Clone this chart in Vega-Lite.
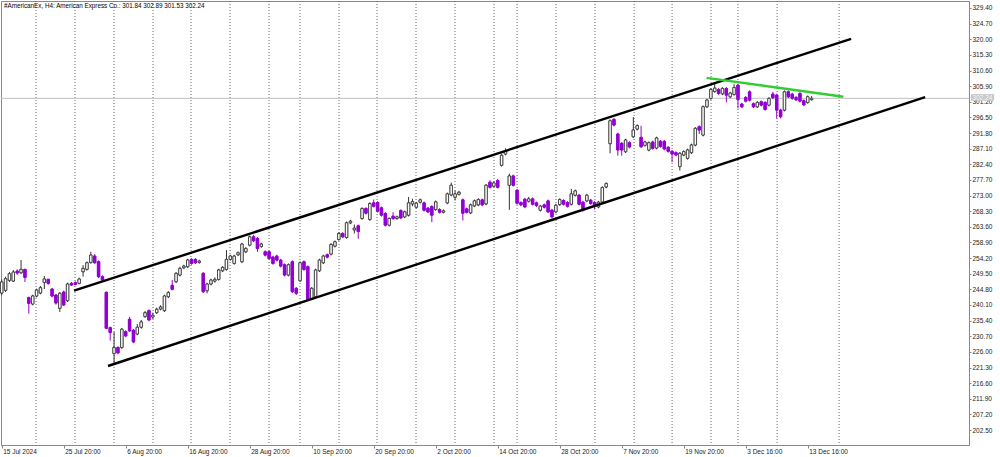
{
  "$schema": "https://vega.github.io/schema/vega-lite/v6.json",
  "width": 968,
  "height": 444,
  "autosize": "none",
  "padding": {"left": 1, "top": 1, "right": 31, "bottom": 12},
  "background": "white",
  "config": {
    "view": {"stroke": "#888888", "strokeWidth": 1},
    "scale": {"continuousPadding": 0},
    "axis": {"labelOverlap": false, "labelFlush": false, "labelBound": false, "grid": false, "domainColor": "#888888", "tickColor": "#888888", "labelFont": "Liberation Sans", "labelFontSize": 6.5, "labelColor": "#222222"},
    "axisX": {"tickSize": 3, "labelAlign": "left", "labelBaseline": "top", "labelPadding": 0, "labelOffset": 1},
    "axisY": {"tickSize": 2, "labelPadding": 1, "labelAlign": "left", "labelBaseline": "middle"}
  },
  "resolve": {"axis": {"x": "independent", "y": "independent"}},
  "datasets": {
    "candles": [
      {"i":0,"o":243.7,"c":247.0,"h":247.8,"l":243.0},
      {"i":1,"o":244.5,"c":248.0,"h":248.6,"l":244.0},
      {"i":2,"o":247.5,"c":249.5,"h":250.0,"l":247.0},
      {"i":3,"o":247.3,"c":250.0,"h":250.6,"l":247.0},
      {"i":4,"o":250.3,"c":249.7,"h":250.8,"l":249.2},
      {"i":5,"o":249.8,"c":250.8,"h":253.6,"l":249.4},
      {"i":6,"o":250.8,"c":248.4,"h":251.0,"l":247.0},
      {"i":7,"o":242.3,"c":240.6,"h":242.6,"l":237.5},
      {"i":8,"o":240.4,"c":242.8,"h":243.2,"l":240.0},
      {"i":9,"o":242.8,"c":244.6,"h":245.0,"l":242.4},
      {"i":10,"o":243.7,"c":245.3,"h":245.8,"l":243.3},
      {"i":11,"o":246.9,"c":247.9,"h":248.8,"l":244.9},
      {"i":12,"o":247.8,"c":246.6,"h":248.0,"l":246.2},
      {"i":13,"o":244.9,"c":242.8,"h":245.2,"l":242.4},
      {"i":14,"o":243.1,"c":240.7,"h":243.4,"l":240.2},
      {"i":15,"o":239.1,"c":243.6,"h":244.0,"l":238.0},
      {"i":16,"o":244.0,"c":240.1,"h":244.4,"l":239.8},
      {"i":17,"o":241.4,"c":246.4,"h":246.8,"l":241.0},
      {"i":18,"o":246.6,"c":246.1,"h":247.0,"l":245.8},
      {"i":19,"o":246.8,"c":246.3,"h":247.2,"l":246.0},
      {"i":20,"o":246.6,"c":247.9,"h":248.3,"l":246.3},
      {"i":21,"o":250.1,"c":251.1,"h":252.1,"l":248.6},
      {"i":22,"o":250.8,"c":252.8,"h":253.2,"l":250.4},
      {"i":23,"o":252.9,"c":255.1,"h":256.1,"l":252.5},
      {"i":24,"o":254.8,"c":252.8,"h":255.4,"l":252.5},
      {"i":25,"o":253.1,"c":248.6,"h":253.5,"l":248.2},
      {"i":26,"o":248.6,"c":247.6,"h":249.0,"l":247.2},
      {"i":27,"o":243.9,"c":233.1,"h":244.2,"l":232.8},
      {"i":28,"o":233.3,"c":231.8,"h":233.6,"l":229.4},
      {"i":29,"o":225.5,"c":227.3,"h":232.0,"l":222.6},
      {"i":30,"o":227.3,"c":225.7,"h":227.7,"l":225.3},
      {"i":31,"o":227.3,"c":232.8,"h":233.2,"l":226.9},
      {"i":32,"o":232.1,"c":230.8,"h":232.5,"l":230.4},
      {"i":33,"o":235.8,"c":232.3,"h":236.5,"l":232.0},
      {"i":34,"o":232.5,"c":229.0,"h":232.9,"l":228.6},
      {"i":35,"o":231.4,"c":233.4,"h":234.4,"l":231.0},
      {"i":36,"o":233.4,"c":235.0,"h":235.6,"l":233.0},
      {"i":37,"o":236.6,"c":237.8,"h":238.3,"l":236.2},
      {"i":38,"o":238.4,"c":235.6,"h":238.8,"l":235.2},
      {"i":39,"o":236.5,"c":237.0,"h":237.8,"l":235.9},
      {"i":40,"o":237.8,"c":238.8,"h":239.3,"l":237.4},
      {"i":41,"o":238.9,"c":239.5,"h":240.0,"l":238.5},
      {"i":42,"o":238.4,"c":242.8,"h":243.2,"l":238.0},
      {"i":43,"o":242.6,"c":243.8,"h":244.3,"l":242.2},
      {"i":44,"o":246.0,"c":244.8,"h":247.6,"l":244.5},
      {"i":45,"o":247.1,"c":249.6,"h":250.0,"l":246.7},
      {"i":46,"o":249.1,"c":251.1,"h":251.6,"l":248.7},
      {"i":47,"o":251.3,"c":251.8,"h":252.2,"l":250.9},
      {"i":48,"o":251.6,"c":253.6,"h":254.0,"l":251.2},
      {"i":49,"o":253.8,"c":252.6,"h":254.2,"l":252.2},
      {"i":50,"o":253.8,"c":252.8,"h":254.2,"l":252.4},
      {"i":51,"o":252.9,"c":253.3,"h":253.7,"l":252.5},
      {"i":52,"o":249.6,"c":244.1,"h":250.0,"l":243.7},
      {"i":53,"o":244.4,"c":246.4,"h":246.8,"l":243.6},
      {"i":54,"o":246.4,"c":247.6,"h":248.0,"l":246.0},
      {"i":55,"o":247.3,"c":247.8,"h":248.4,"l":246.8},
      {"i":56,"o":247.8,"c":250.6,"h":251.0,"l":247.4},
      {"i":57,"o":250.4,"c":251.4,"h":251.8,"l":250.0},
      {"i":58,"o":250.8,"c":253.8,"h":256.6,"l":250.4},
      {"i":59,"o":253.8,"c":254.8,"h":255.2,"l":253.4},
      {"i":60,"o":252.6,"c":254.8,"h":255.2,"l":252.2},
      {"i":61,"o":255.2,"c":255.8,"h":256.2,"l":254.8},
      {"i":62,"o":253.1,"c":258.4,"h":258.8,"l":252.7},
      {"i":63,"o":256.1,"c":257.1,"h":257.5,"l":255.7},
      {"i":64,"o":258.1,"c":260.6,"h":261.0,"l":257.7},
      {"i":65,"o":260.6,"c":259.4,"h":261.2,"l":259.0},
      {"i":66,"o":260.1,"c":257.1,"h":260.5,"l":256.1},
      {"i":67,"o":257.7,"c":258.4,"h":258.8,"l":257.3},
      {"i":68,"o":256.1,"c":255.1,"h":256.5,"l":254.7},
      {"i":69,"o":256.1,"c":254.1,"h":256.5,"l":253.7},
      {"i":70,"o":254.5,"c":252.6,"h":254.9,"l":252.2},
      {"i":71,"o":254.8,"c":253.6,"h":255.2,"l":253.2},
      {"i":72,"o":253.6,"c":251.8,"h":254.0,"l":251.4},
      {"i":73,"o":252.2,"c":249.1,"h":252.6,"l":248.7},
      {"i":74,"o":249.1,"c":252.2,"h":252.6,"l":248.7},
      {"i":75,"o":253.1,"c":244.1,"h":253.5,"l":243.7},
      {"i":76,"o":245.1,"c":243.6,"h":245.5,"l":243.1},
      {"i":77,"o":247.4,"c":252.8,"h":253.2,"l":247.0},
      {"i":78,"o":253.1,"c":250.8,"h":253.5,"l":250.4},
      {"i":79,"o":251.6,"c":241.8,"h":252.0,"l":241.4},
      {"i":80,"o":242.1,"c":245.1,"h":245.5,"l":241.7},
      {"i":81,"o":242.6,"c":250.6,"h":251.0,"l":242.2},
      {"i":82,"o":250.4,"c":253.6,"h":254.0,"l":250.0},
      {"i":83,"o":252.8,"c":254.8,"h":255.2,"l":252.4},
      {"i":84,"o":255.2,"c":254.5,"h":255.6,"l":254.1},
      {"i":85,"o":255.4,"c":258.3,"h":258.7,"l":255.0},
      {"i":86,"o":257.8,"c":259.1,"h":259.5,"l":257.4},
      {"i":87,"o":259.8,"c":261.6,"h":262.0,"l":259.4},
      {"i":88,"o":261.6,"c":260.6,"h":262.0,"l":260.2},
      {"i":89,"o":260.4,"c":264.8,"h":265.2,"l":260.0},
      {"i":90,"o":264.8,"c":265.3,"h":265.7,"l":264.4},
      {"i":91,"o":262.7,"c":263.2,"h":264.3,"l":261.6},
      {"i":92,"o":263.9,"c":262.2,"h":264.3,"l":260.0},
      {"i":93,"o":266.1,"c":269.1,"h":269.5,"l":265.7},
      {"i":94,"o":269.1,"c":267.7,"h":269.5,"l":267.3},
      {"i":95,"o":265.8,"c":270.6,"h":271.0,"l":265.4},
      {"i":96,"o":270.8,"c":269.8,"h":271.8,"l":269.4},
      {"i":97,"o":270.9,"c":268.3,"h":271.3,"l":267.9},
      {"i":98,"o":269.3,"c":267.1,"h":269.7,"l":266.7},
      {"i":99,"o":267.6,"c":264.1,"h":268.0,"l":263.7},
      {"i":100,"o":264.1,"c":266.1,"h":266.5,"l":263.7},
      {"i":101,"o":266.8,"c":266.1,"h":268.0,"l":265.7},
      {"i":102,"o":266.1,"c":266.6,"h":267.0,"l":265.7},
      {"i":103,"o":268.5,"c":266.3,"h":268.9,"l":265.9},
      {"i":104,"o":266.6,"c":268.1,"h":268.5,"l":266.2},
      {"i":105,"o":267.1,"c":270.8,"h":272.6,"l":266.7},
      {"i":106,"o":270.5,"c":271.2,"h":272.0,"l":269.8},
      {"i":107,"o":269.5,"c":270.7,"h":271.1,"l":269.1},
      {"i":108,"o":271.0,"c":271.7,"h":272.1,"l":270.6},
      {"i":109,"o":270.8,"c":268.6,"h":271.2,"l":268.2},
      {"i":110,"o":269.2,"c":268.1,"h":269.6,"l":267.7},
      {"i":111,"o":269.7,"c":267.1,"h":270.1,"l":265.0},
      {"i":112,"o":268.8,"c":271.1,"h":271.5,"l":268.4},
      {"i":113,"o":268.8,"c":268.0,"h":269.2,"l":267.6},
      {"i":114,"o":268.0,"c":268.4,"h":268.8,"l":267.6},
      {"i":115,"o":270.8,"c":273.5,"h":273.9,"l":270.4},
      {"i":116,"o":273.2,"c":276.1,"h":276.9,"l":272.8},
      {"i":117,"o":272.5,"c":273.5,"h":274.5,"l":271.5},
      {"i":118,"o":273.4,"c":274.0,"h":274.4,"l":273.0},
      {"i":119,"o":271.7,"c":267.7,"h":272.1,"l":265.5},
      {"i":120,"o":269.0,"c":268.0,"h":269.4,"l":267.6},
      {"i":121,"o":267.8,"c":270.2,"h":270.6,"l":267.4},
      {"i":122,"o":269.9,"c":271.4,"h":271.8,"l":269.5},
      {"i":123,"o":270.2,"c":271.8,"h":272.2,"l":269.8},
      {"i":124,"o":271.7,"c":270.2,"h":272.1,"l":269.8},
      {"i":125,"o":270.5,"c":276.1,"h":276.5,"l":270.1},
      {"i":126,"o":277.0,"c":275.5,"h":277.6,"l":275.1},
      {"i":127,"o":275.8,"c":276.8,"h":277.2,"l":275.4},
      {"i":128,"o":277.5,"c":275.5,"h":278.0,"l":275.1},
      {"i":129,"o":282.1,"c":285.1,"h":285.6,"l":281.7},
      {"i":130,"o":285.5,"c":286.3,"h":287.2,"l":285.1},
      {"i":131,"o":276.1,"c":278.9,"h":279.6,"l":268.7},
      {"i":132,"o":278.9,"c":276.1,"h":279.3,"l":275.7},
      {"i":133,"o":274.6,"c":270.7,"h":275.0,"l":270.3},
      {"i":134,"o":270.9,"c":270.2,"h":271.3,"l":269.8},
      {"i":135,"o":271.9,"c":269.6,"h":272.3,"l":269.2},
      {"i":136,"o":271.3,"c":272.0,"h":272.6,"l":270.9},
      {"i":137,"o":272.0,"c":270.4,"h":272.4,"l":270.0},
      {"i":138,"o":270.8,"c":270.0,"h":271.2,"l":269.6},
      {"i":139,"o":268.6,"c":269.8,"h":270.2,"l":268.2},
      {"i":140,"o":270.2,"c":269.5,"h":270.6,"l":269.1},
      {"i":141,"o":271.4,"c":268.1,"h":271.8,"l":267.7},
      {"i":142,"o":268.6,"c":266.6,"h":269.0,"l":266.2},
      {"i":143,"o":268.1,"c":270.1,"h":270.5,"l":267.7},
      {"i":144,"o":270.3,"c":271.8,"h":272.2,"l":269.9},
      {"i":145,"o":271.5,"c":270.4,"h":271.9,"l":270.0},
      {"i":146,"o":270.9,"c":269.8,"h":271.3,"l":269.4},
      {"i":147,"o":270.4,"c":273.5,"h":275.0,"l":270.0},
      {"i":148,"o":273.1,"c":274.4,"h":274.8,"l":272.7},
      {"i":149,"o":273.1,"c":270.4,"h":273.5,"l":270.0},
      {"i":150,"o":271.0,"c":268.6,"h":271.4,"l":268.2},
      {"i":151,"o":271.4,"c":273.1,"h":273.5,"l":271.0},
      {"i":152,"o":271.6,"c":270.6,"h":272.0,"l":270.2},
      {"i":153,"o":270.9,"c":269.9,"h":271.3,"l":268.8},
      {"i":154,"o":269.6,"c":271.0,"h":271.4,"l":269.2},
      {"i":155,"o":271.1,"c":275.4,"h":275.8,"l":270.7},
      {"i":156,"o":275.6,"c":276.6,"h":277.0,"l":275.2},
      {"i":157,"o":288.6,"c":295.5,"h":295.9,"l":285.7},
      {"i":158,"o":295.9,"c":294.2,"h":296.3,"l":293.8},
      {"i":159,"o":291.5,"c":286.7,"h":291.9,"l":285.0},
      {"i":160,"o":288.7,"c":286.7,"h":289.1,"l":285.0},
      {"i":161,"o":286.2,"c":289.7,"h":290.1,"l":285.8},
      {"i":162,"o":288.9,"c":287.6,"h":289.3,"l":287.2},
      {"i":163,"o":290.7,"c":292.7,"h":296.6,"l":290.3},
      {"i":164,"o":293.0,"c":294.0,"h":294.4,"l":292.6},
      {"i":165,"o":290.5,"c":287.7,"h":294.0,"l":287.3},
      {"i":166,"o":288.1,"c":289.1,"h":289.5,"l":287.7},
      {"i":167,"o":286.7,"c":288.9,"h":289.3,"l":286.3},
      {"i":168,"o":289.1,"c":287.2,"h":289.5,"l":286.8},
      {"i":169,"o":287.3,"c":290.3,"h":290.7,"l":286.9},
      {"i":170,"o":289.3,"c":287.8,"h":289.7,"l":287.4},
      {"i":171,"o":289.3,"c":287.0,"h":289.7,"l":286.6},
      {"i":172,"o":287.5,"c":286.3,"h":287.9,"l":285.9},
      {"i":173,"o":286.3,"c":285.5,"h":286.7,"l":283.0},
      {"i":174,"o":285.9,"c":285.2,"h":286.3,"l":284.8},
      {"i":175,"o":281.7,"c":285.7,"h":286.1,"l":280.5},
      {"i":176,"o":285.2,"c":286.2,"h":286.6,"l":284.8},
      {"i":177,"o":284.2,"c":286.7,"h":287.1,"l":283.8},
      {"i":178,"o":285.9,"c":288.2,"h":288.6,"l":285.5},
      {"i":179,"o":288.2,"c":293.2,"h":293.6,"l":287.8},
      {"i":180,"o":293.7,"c":292.7,"h":294.1,"l":291.5},
      {"i":181,"o":291.2,"c":299.7,"h":300.1,"l":290.8},
      {"i":182,"o":299.7,"c":301.7,"h":302.1,"l":299.3},
      {"i":183,"o":302.2,"c":304.9,"h":305.3,"l":301.8},
      {"i":184,"o":304.3,"c":305.3,"h":306.5,"l":303.9},
      {"i":185,"o":304.9,"c":303.7,"h":305.3,"l":303.3},
      {"i":186,"o":303.6,"c":305.2,"h":305.6,"l":303.2},
      {"i":187,"o":305.2,"c":303.2,"h":305.6,"l":301.0},
      {"i":188,"o":302.7,"c":303.8,"h":304.2,"l":302.3},
      {"i":189,"o":303.4,"c":305.5,"h":306.5,"l":303.0},
      {"i":190,"o":306.2,"c":301.9,"h":306.6,"l":299.2},
      {"i":191,"o":300.5,"c":299.7,"h":300.9,"l":299.3},
      {"i":192,"o":302.5,"c":301.4,"h":302.9,"l":301.0},
      {"i":193,"o":304.2,"c":301.7,"h":304.6,"l":301.3},
      {"i":194,"o":300.6,"c":299.7,"h":301.0,"l":299.3},
      {"i":195,"o":299.7,"c":301.0,"h":301.4,"l":299.3},
      {"i":196,"o":301.2,"c":300.2,"h":301.6,"l":299.8},
      {"i":197,"o":301.0,"c":298.9,"h":301.4,"l":298.5},
      {"i":198,"o":300.2,"c":302.2,"h":302.6,"l":299.8},
      {"i":199,"o":303.5,"c":302.4,"h":304.2,"l":302.0},
      {"i":200,"o":303.2,"c":298.7,"h":303.6,"l":296.2},
      {"i":201,"o":298.7,"c":296.7,"h":299.1,"l":296.2},
      {"i":202,"o":298.7,"c":304.2,"h":304.6,"l":298.3},
      {"i":203,"o":304.2,"c":302.7,"h":304.6,"l":302.3},
      {"i":204,"o":303.5,"c":302.2,"h":303.9,"l":301.8},
      {"i":205,"o":302.5,"c":301.8,"h":302.9,"l":301.4},
      {"i":206,"o":303.7,"c":301.4,"h":304.1,"l":301.0},
      {"i":207,"o":301.5,"c":300.3,"h":301.9,"l":299.9},
      {"i":208,"o":301.0,"c":302.7,"h":303.1,"l":300.6},
      {"i":209,"o":301.84,"c":302.24,"h":302.89,"l":301.53}
    ],
    "weeks": [
      {"i":8.85},{"i":18.92},{"i":28.98},{"i":39.05},{"i":48.85},{"i":58.92},{"i":68.98},{"i":76.98},
      {"i":87.05},{"i":96.85},{"i":106.92},{"i":116.98},{"i":127.05},{"i":133.0},{"i":143.05},{"i":153.1},
      {"i":163.2},{"i":173.0},{"i":183.05},{"i":190.0},{"i":200.1},{"i":216.1}
    ],
    "lines": [
      {"g":"upper","i":18.66,"p":244.4},{"g":"upper","i":219.2,"p":320.1},
      {"g":"lower","i":27.43,"p":221.75},{"g":"lower","i":238.3,"p":302.6},
      {"g":"green","i":181.9,"p":308.4},{"g":"green","i":217.2,"p":302.7}
    ],
    "bid": [{"p":302.24,"t":"302.24","x0":250.1,"x1":256.1,"xm":253.1,"y0":301.5,"y1":303.5}],
    "header": [{"t":"#AmericanEx, H4:  American Express Co.: 301.84 302.89 301.53 302.24","i":0.6,"p":329.9}]
  },
  "layer": [
    {
      "data": {"name": "candles"},
      "mark": {"type": "bar", "width": 2.4, "strokeWidth": 0.8, "orient": "vertical"},
      "encoding": {
        "x": {
          "field": "i", "type": "quantitative",
          "scale": {"domain": [-0.18, 249.62], "nice": false, "zero": false, "padding": 0},
          "axis": {
            "values": [0, 16, 32, 48, 64, 80, 96, 112, 128, 144, 160, 176, 192, 208],
            "labelExpr": "['15 Jul 2024','25 Jul 20:00','6 Aug 20:00','16 Aug 20:00','28 Aug 20:00','10 Sep 20:00','20 Sep 20:00','2 Oct 20:00','14 Oct 20:00','28 Oct 20:00','7 Nov 20:00','19 Nov 20:00','3 Dec 16:00','13 Dec 16:00'][round(datum.value/16)]",
            "title": null, "grid": false, "labelOverlap": false
          }
        },
        "y": {
          "field": "o", "type": "quantitative",
          "scale": {"domain": [198, 331.5], "nice": false, "zero": false, "padding": 0},
          "axis": {
            "orient": "right",
            "values": [202.5, 207.2, 211.9, 216.6, 221.3, 226.0, 230.7, 235.4, 240.1, 244.8, 249.5, 254.2, 258.9, 263.6, 268.3, 273.0, 277.7, 282.4, 287.1, 291.8, 296.5, 301.2, 305.9, 310.6, 315.3, 320.0, 324.7, 329.4],
            "format": ".2f", "title": null, "grid": false, "labelOverlap": false
          }
        },
        "y2": {"field": "c"},
        "fill": {"condition": {"test": "datum.c >= datum.o", "value": "#ffffff"}, "value": "#9400D3"},
        "stroke": {"condition": {"test": "datum.c >= datum.o", "value": "#333333"}, "value": "#9400D3"}
      }
    },
    {
      "data": {"name": "weeks"},
      "mark": {"type": "rule", "stroke": "#666666", "strokeWidth": 1, "strokeDash": [1, 2]},
      "encoding": {
        "x": {"field": "i", "type": "quantitative", "axis": null}
      }
    },
    {
      "data": {"name": "bid"},
      "mark": {"type": "rule", "stroke": "#c0c0c0", "strokeWidth": 1},
      "encoding": {
        "y": {"field": "p", "type": "quantitative", "axis": null}
      }
    },
    {
      "data": {"name": "candles"},
      "mark": {"type": "rule", "strokeWidth": 1},
      "encoding": {
        "x": {"field": "i", "type": "quantitative", "axis": null},
        "y": {"field": "l", "type": "quantitative", "axis": null},
        "y2": {"field": "h"},
        "stroke": {"condition": {"test": "datum.c >= datum.o", "value": "#333333"}, "value": "#9400D3"}
      }
    },
    {
      "data": {"name": "candles"},
      "mark": {"type": "bar", "width": 2.4, "strokeWidth": 0.8, "orient": "vertical"},
      "encoding": {
        "x": {"field": "i", "type": "quantitative", "axis": null},
        "y": {"field": "o", "type": "quantitative", "axis": null},
        "y2": {"field": "c"},
        "fill": {"condition": {"test": "datum.c >= datum.o", "value": "#ffffff"}, "value": "#9400D3"},
        "stroke": {"condition": {"test": "datum.c >= datum.o", "value": "#333333"}, "value": "#9400D3"}
      }
    },
    {
      "data": {"name": "lines"},
      "mark": {"type": "line", "strokeWidth": 2.4, "clip": false},
      "encoding": {
        "x": {"field": "i", "type": "quantitative", "axis": null},
        "y": {"field": "p", "type": "quantitative", "axis": null},
        "detail": {"field": "g"},
        "color": {"field": "g", "type": "nominal", "scale": {"domain": ["upper", "lower", "green"], "range": ["#000000", "#000000", "#32CD32"]}, "legend": null}
      }
    },
    {
      "data": {"name": "bid"},
      "mark": {"type": "rect", "fill": "#c8c8c8", "clip": false},
      "encoding": {
        "x": {"field": "x0", "type": "quantitative", "axis": null},
        "x2": {"field": "x1"},
        "y": {"field": "y0", "type": "quantitative", "axis": null},
        "y2": {"field": "y1"}
      }
    },
    {
      "data": {"name": "bid"},
      "mark": {"type": "text", "font": "Liberation Sans", "fontSize": 6.5, "fill": "#f4f4f4", "align": "center", "baseline": "middle", "clip": false},
      "encoding": {
        "x": {"field": "xm", "type": "quantitative", "axis": null},
        "y": {"field": "p", "type": "quantitative", "axis": null},
        "text": {"field": "t"}
      }
    },
    {
      "data": {"name": "header"},
      "mark": {"type": "text", "font": "Liberation Sans", "fontSize": 6.3, "fill": "#000000", "align": "left", "baseline": "middle"},
      "encoding": {
        "x": {"field": "i", "type": "quantitative", "axis": null},
        "y": {"field": "p", "type": "quantitative", "axis": null},
        "text": {"field": "t"}
      }
    }
  ]
}
